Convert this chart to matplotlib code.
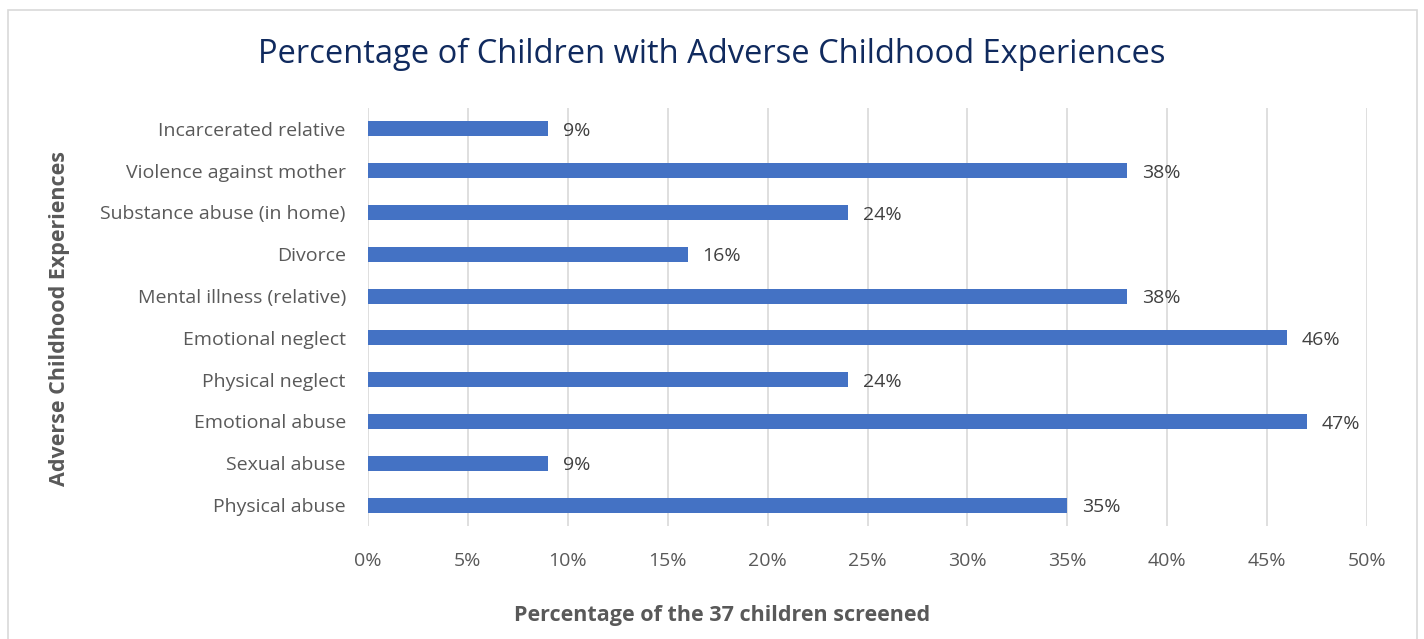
import matplotlib
matplotlib.use('Agg')
import matplotlib.pyplot as plt
from matplotlib.patches import Rectangle
from matplotlib.ticker import FuncFormatter

categories = ['Incarcerated relative', 'Violence against mother', 'Substance abuse (in home)',
              'Divorce', 'Mental illness (relative)', 'Emotional neglect', 'Physical neglect',
              'Emotional abuse', 'Sexual abuse', 'Physical abuse']
percents = [9, 38, 24, 16, 38, 46, 24, 47, 9, 35]
xticks = [0, 5, 10, 15, 20, 25, 30, 35, 40, 45, 50]

plt.rcParams['font.family'] = ['Open Sans', 'DejaVu Sans']

W, H = 1424, 639
fig = plt.figure(figsize=(W / 100, H / 100), dpi=100)
fig.patch.set_facecolor('white')

# light chart-area border
fig.patches.append(Rectangle((8 / W, -0.05), (1417 - 8) / W, 1.05 - 10 / H,
                             transform=fig.transFigure, fill=False,
                             edgecolor='#d9d9d9', linewidth=1.2))

ax = fig.add_axes([368 / W, 1 - 526 / H, (1367 - 368) / W, (526 - 108) / H])

ypos = list(range(len(categories)))[::-1]
ax.barh(ypos, percents, height=0.36, color='#4472c4', zorder=3)
for y, v in zip(ypos, percents):
    ax.text(v + 0.75, y - 0.05, '%d%%' % v, va='center', ha='left', fontsize=14, color='#404040')

ax.set_xlim(0, 50)
ax.set_ylim(-0.5, len(categories) - 0.5)
ax.set_xticks(xticks)
ax.xaxis.set_major_formatter(FuncFormatter(lambda v, p: '%d%%' % v))
ax.set_yticks(ypos)
ax.set_yticklabels(categories)
ax.tick_params(axis='both', length=0, labelsize=14, colors='#595959')
ax.tick_params(axis='x', pad=19)
ax.tick_params(axis='y', pad=16)
ax.grid(axis='x', color='#d9d9d9', linewidth=1.2, zorder=0)
for s in ax.spines.values():
    s.set_visible(False)

fig.text(712 / W, 1 - 54 / H, 'Percentage of Children with Adverse Childhood Experiences',
         ha='center', va='center', fontsize=23.5, color='#102a5e')
fig.text(60 / W, 1 - 319 / H, 'Adverse Childhood Experiences', rotation=90,
         ha='center', va='center', fontsize=15.5, fontweight='bold', color='#595959')
fig.text(722 / W, 1 - 616 / H, 'Percentage of the 37 children screened',
         ha='center', va='center', fontsize=15.5, fontweight='bold', color='#595959')

fig.savefig('out.png', dpi=100)
